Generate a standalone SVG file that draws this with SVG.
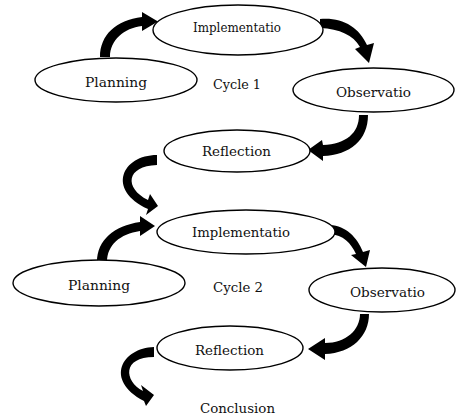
<svg xmlns="http://www.w3.org/2000/svg" width="456" height="417" viewBox="0 0 456 417">
<style>
.node ellipse{fill:#fff;stroke:#000;stroke-width:1.4}
text{font-family:"DejaVu Serif","Liberation Serif",serif;font-size:13px;fill:#111;text-anchor:middle}
.arrow{fill:#000;stroke:none}
</style>
<rect width="456" height="417" fill="#fff"/>
<g id="connectors">
<path class="arrow" d="M100,57 C100,35 116,20 142,17 L142,12 L158,21.5 L142,31 L142,26 C124,28 110,40 110,57 Z"/>
<path class="arrow" d="M320,19 C342,17 359,27 367,45 L374,43 L369,63 L355,49 L360,47 C353,35 340,29 320,28 Z"/>
<path class="arrow" d="M359,115 C359,133 346,144 323,145 L322,140 L308,150 L323,161 L323,156 C350,155 368,140 368,115 Z"/>
<path class="arrow" d="M157,155 C122,155 106,190 148,209 L146,215 L158,206 L150,194 L148,200 C124,188 126,166 157,165 Z"/>
<path class="arrow" d="M97,262 C97,240 114,226 140,222 L140,216 L155,226 L140,236 L140,231 C120,234 107,245 107,262 Z"/>
<path class="arrow" d="M330,225 C346,226 357,237 363,252 L370,250 L366,267 L351,255 L356,254 C351,243 343,235 330,234 Z"/>
<path class="arrow" d="M360,314 C360,330 346,343 325,343 L325,338 L308,349 L325,360 L325,354 C352,353 369,336 369,314 Z"/>
<path class="arrow" d="M154,347 C122,348 104,380 144,401 L146,406 L154,395 L141,385 L143,391 C124,381 122,357 154,357 Z"/>
</g>
<g id="planning1" class="node"><ellipse cx="116" cy="80" rx="81" ry="22"/><text x="116" y="87" textLength="62" lengthAdjust="spacingAndGlyphs">Planning</text></g>
<g id="implementation1" class="node"><ellipse cx="238" cy="30" rx="85" ry="25"/><text x="237" y="32" font-size="11.5" textLength="88" lengthAdjust="spacingAndGlyphs">Implementatio</text></g>
<g id="observation1" class="node"><ellipse cx="373.5" cy="90" rx="80.5" ry="22"/><text x="373.5" y="97" textLength="75" lengthAdjust="spacingAndGlyphs">Observatio</text></g>
<g id="reflection1" class="node"><ellipse cx="237" cy="151" rx="73" ry="21"/><text x="236.5" y="156" textLength="69" lengthAdjust="spacingAndGlyphs">Reflection</text></g>
<g id="cycle1"><text x="237" y="89" textLength="48" lengthAdjust="spacingAndGlyphs">Cycle 1</text></g>
<g id="implementation2" class="node"><ellipse cx="246" cy="232" rx="89" ry="22"/><text x="241" y="237" textLength="98" lengthAdjust="spacingAndGlyphs">Implementatio</text></g>
<g id="planning2" class="node"><ellipse cx="99" cy="283" rx="86" ry="23"/><text x="99" y="290" textLength="62" lengthAdjust="spacingAndGlyphs">Planning</text></g>
<g id="observation2" class="node"><ellipse cx="382" cy="290" rx="73" ry="22"/><text x="387.5" y="297" textLength="75" lengthAdjust="spacingAndGlyphs">Observatio</text></g>
<g id="cycle2"><text x="238" y="292" textLength="50" lengthAdjust="spacingAndGlyphs">Cycle 2</text></g>
<g id="reflection2" class="node"><ellipse cx="230" cy="348" rx="73" ry="22"/><text x="229.5" y="355" textLength="69" lengthAdjust="spacingAndGlyphs">Reflection</text></g>
<g id="conclusion"><text x="237.5" y="413" textLength="75" lengthAdjust="spacingAndGlyphs">Conclusion</text></g>
</svg>
